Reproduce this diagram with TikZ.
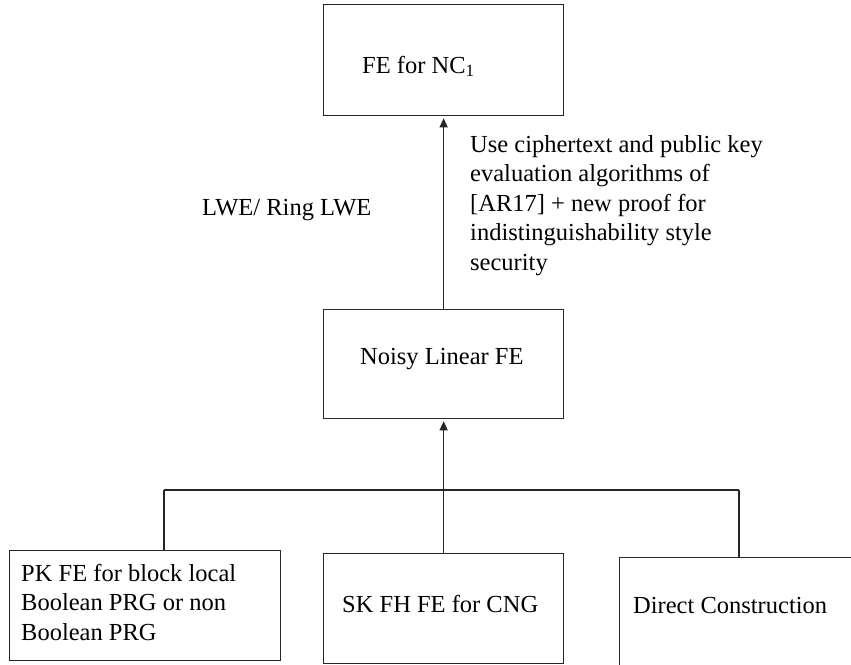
\documentclass[tikz,border=0pt]{standalone}
\usepackage{fontspec}
\setmainfont{Liberation Serif}
\usetikzlibrary{arrows.meta}
\tikzset{
  box/.style={draw=black!85, line width=1.3pt, rectangle, inner sep=0pt, anchor=north west},
  lbl/.style={anchor=base west, inner sep=0pt, align=left, font=\fontsize{24.5}{29.5}\selectfont},
  conn/.style={line width=1.3pt, draw=black!85},
  arr/.style={conn, -{Triangle[length=9pt, width=8pt]}, shorten >=2pt},
}
\begin{document}
\begin{tikzpicture}[x=1pt, y=-1pt]
\clip (0,0) rectangle (851,664);
% boxes
\node[box, minimum width=240pt, minimum height=111pt] (top) at (323,4) {};
\node[box, minimum width=240pt, minimum height=109pt] (mid) at (323,309) {};
\node[box, minimum width=271pt, minimum height=110pt] (lb) at (9,550) {};
\node[box, minimum width=240pt, minimum height=110pt] (sk) at (323,553) {};
\node[box, minimum width=300pt, minimum height=150pt] (rb) at (619,557) {};
% box texts
\node[lbl] (toptext) at (362,73) {FE for NC\textsubscript{1}};
\node[lbl] (midtext) at (360,364) {Noisy Linear FE};
\node[lbl] (lbtext) at (21,640) {PK FE for block local\\Boolean PRG or non\\Boolean PRG};
\node[lbl] (sktext) at (342,612) {SK FH FE for CNG};
\node[lbl] (rbtext) at (633,613) {Direct Construction};
% side labels
\node[lbl] (lwe) at (202,215) {LWE/ Ring LWE};
\node[lbl] (use) at (470,270) {Use ciphertext and public key\\evaluation algorithms of\\{[AR17]} + new proof for\\indistinguishability style\\security};
% connectors
\draw[arr] (mid.north) -- (top.south);
\draw[arr] (sk.north) -- (mid.south);
\coordinate (hl) at (164,490);
\coordinate (hr) at (739,490);
\draw[conn] (hl) -- (hr);
\draw[conn] (hl) -- (hl |- lb.north);
\draw[conn] (hr) -- (hr |- rb.north);
\end{tikzpicture}
\end{document}
